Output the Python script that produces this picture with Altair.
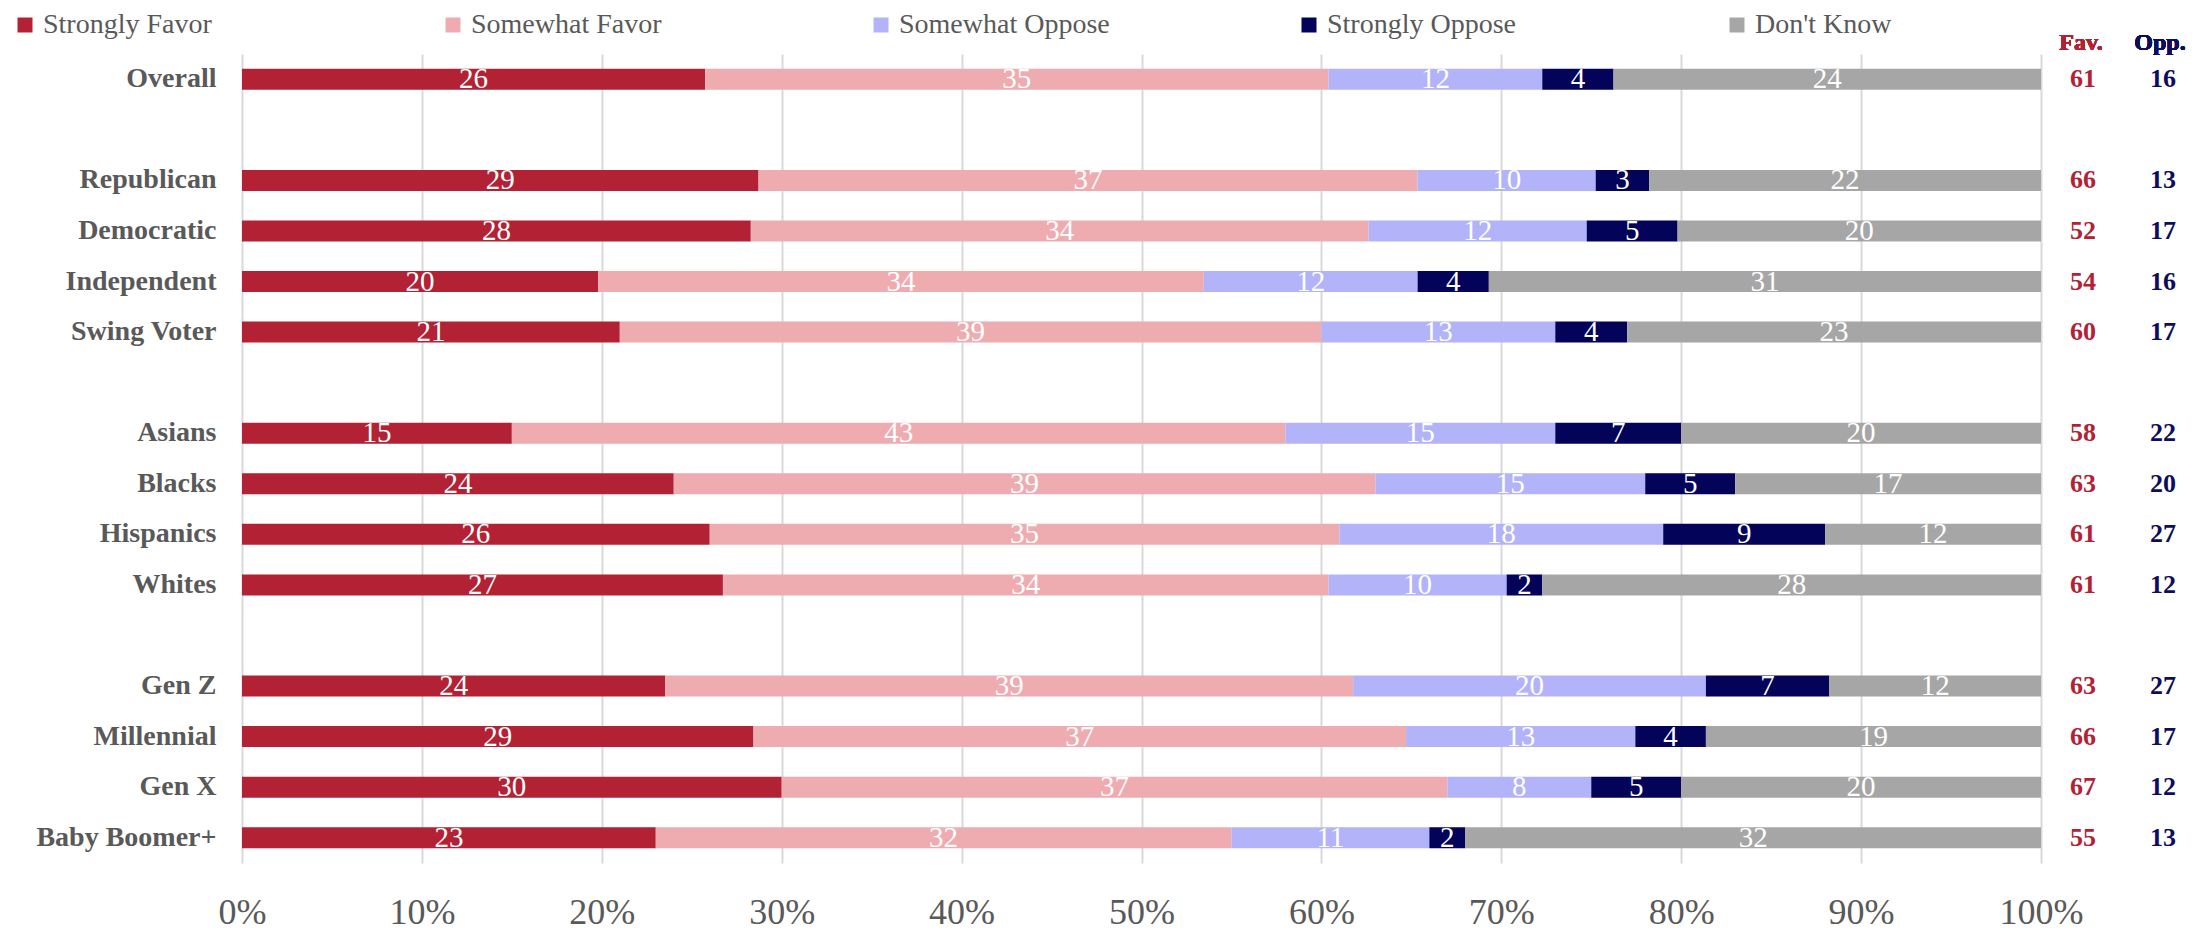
import altair as alt
import pandas as pd

SERIF = "Liberation Serif"
GREY = "#595959"

# Row order (blank strings are spacer rows between groups)
rows = ["Overall", " ", "Republican", "Democratic", "Independent", "Swing Voter", "  ",
        "Asians", "Blacks", "Hispanics", "Whites", "   ",
        "Gen Z", "Millennial", "Gen X", "Baby Boomer+"]
groups = ["Overall", "Republican", "Democratic", "Independent", "Swing Voter",
          "Asians", "Blacks", "Hispanics", "Whites",
          "Gen Z", "Millennial", "Gen X", "Baby Boomer+"]

responses = ["Strongly Favor", "Somewhat Favor", "Somewhat Oppose", "Strongly Oppose", "Don't Know"]
colors = ["#B22234", "#EEACB1", "#B3B3F9", "#03035A", "#A6A6A6"]

strongly_favor = [26, 29, 28, 20, 21, 15, 24, 26, 27, 24, 29, 30, 23]
somewhat_favor = [35, 37, 34, 34, 39, 43, 39, 35, 34, 39, 37, 37, 32]
somewhat_oppose = [12, 10, 12, 12, 13, 15, 15, 18, 10, 20, 13, 8, 11]
strongly_oppose = [4, 3, 5, 4, 4, 7, 5, 9, 2, 7, 4, 5, 2]
dont_know = [24, 22, 20, 31, 23, 20, 17, 12, 28, 12, 19, 20, 32]

fav = [61, 66, 52, 54, 60, 58, 63, 61, 61, 63, 66, 67, 55]
opp = [16, 13, 17, 16, 17, 22, 20, 27, 12, 27, 17, 12, 13]

x_ticks = [0, 0.1, 0.2, 0.3, 0.4, 0.5, 0.6, 0.7, 0.8, 0.9, 1.0]

series = [strongly_favor, somewhat_favor, somewhat_oppose, strongly_oppose, dont_know]
records = []
for i, g in enumerate(groups):
    for k, (resp, vals) in enumerate(zip(responses, series)):
        records.append({"group": g, "response": resp, "order": k, "value": vals[i]})
df = pd.DataFrame(records)
summary = pd.DataFrame({"group": groups, "fav": fav, "opp": opp})

y_enc = alt.Y(
    "group:N",
    sort=rows,
    scale=alt.Scale(domain=rows, paddingInner=0, paddingOuter=0),
    axis=alt.Axis(title=None, domain=False, ticks=False, labelFont=SERIF, labelFontSize=28,
                  labelFontWeight="bold", labelColor=GREY, labelPadding=26, labelLimit=400),
)

bars = alt.Chart(df).mark_bar(size=21).encode(
    x=alt.X(
        "value:Q",
        stack="normalize",
        scale=alt.Scale(domain=[0, 1], nice=False),
        axis=alt.Axis(title=None, values=x_ticks, format=".0%", domain=False, ticks=False,
                      grid=True, gridColor="#D9D9D9", gridWidth=2, labelFont=SERIF,
                      labelFontSize=36, labelColor=GREY, labelPadding=32, labelFlush=False),
    ),
    y=y_enc,
    color=alt.Color(
        "response:N",
        scale=alt.Scale(domain=responses, range=colors),
        legend=alt.Legend(title=None, orient="none", legendX=-231, legendY=-43,
                          direction="horizontal", columns=5, gridAlign="all",
                          symbolType="square", symbolSize=225, symbolStrokeWidth=0,
                          labelFont=SERIF, labelFontSize=28, labelColor=GREY,
                          labelOffset=4, columnPadding=185, labelLimit=400),
    ),
    order=alt.Order("order:Q"),
)

labels = alt.Chart(df).transform_joinaggregate(
    total="sum(value)", groupby=["group"]
).transform_window(
    cum="sum(value)", groupby=["group"], sort=[alt.SortField("order")], frame=[None, 0]
).transform_calculate(
    mid="(datum.cum - datum.value / 2) / datum.total"
).mark_text(font=SERIF, fontSize=29, color="white", align="center", baseline="middle").encode(
    x=alt.X("mid:Q"),
    y=y_enc,
    text="value:Q",
)

fav_text = alt.Chart(summary).mark_text(
    font=SERIF, fontSize=26, fontWeight="bold", color="#B22234", align="center", baseline="middle"
).encode(x=alt.value(1841), y=y_enc, text="fav:Q")

opp_text = alt.Chart(summary).mark_text(
    font=SERIF, fontSize=26, fontWeight="bold", color="#0D0D5B", align="center", baseline="middle"
).encode(x=alt.value(1921), y=y_enc, text="opp:Q")

fav_head = alt.Chart(summary).mark_text(
    text="Fav.", font=SERIF, fontSize=24, fontWeight="bold", color="#B22234", align="center", baseline="middle"
).encode(x=alt.value(1839), y=alt.value(-11))

opp_head = alt.Chart(summary).mark_text(
    text="Opp.", font=SERIF, fontSize=24, fontWeight="bold", color="#0D0D5B", align="center", baseline="middle"
).encode(x=alt.value(1918), y=alt.value(-11))

chart = alt.layer(bars, labels, fav_text, opp_text, fav_head, opp_head).properties(
    width=1799,
    height=809,
    autosize=alt.AutoSizeParams(type="none"),
    padding={"left": 234, "top": 46, "right": 146, "bottom": 76},
).configure_view(stroke=None)

chart.save("out.html", embed_options={"renderer": "svg", "actions": False})
